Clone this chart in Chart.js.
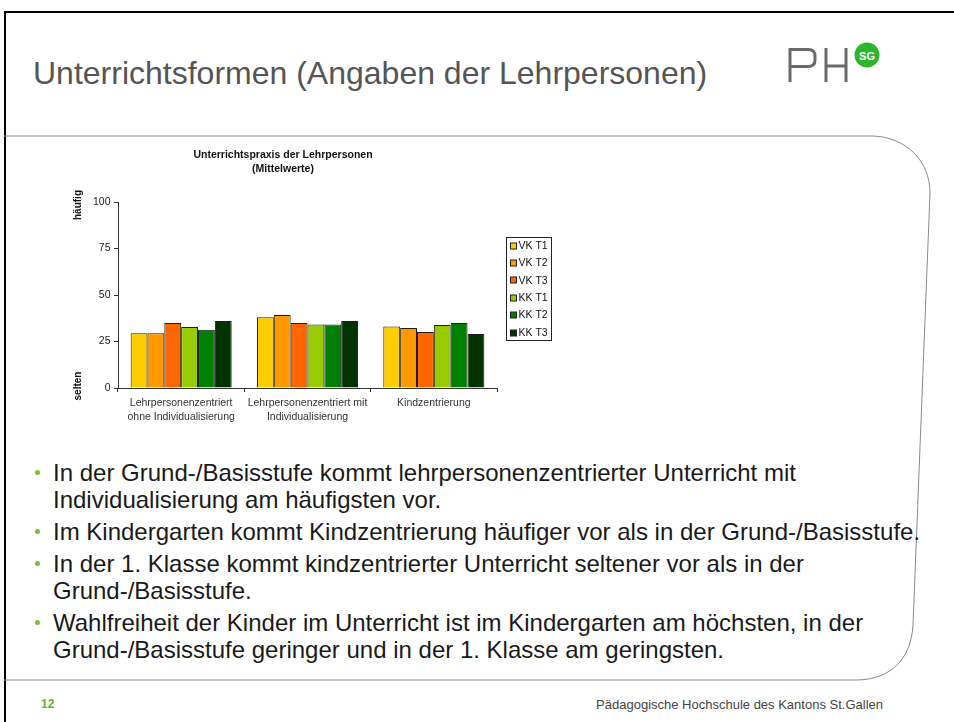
<!DOCTYPE html>
<html>
<head>
<meta charset="utf-8">
<script src="https://cdn.jsdelivr.net/npm/chart.js@4.4.0/dist/chart.umd.min.js"></script>
<style>
  html, body { margin: 0; overflow: hidden; background: #fff; font-family: "Liberation Sans", Arial, sans-serif; }
  #slide { position: relative; width: 954px; height: 722px; overflow: hidden; background: #fff; }
  #frame { position: absolute; left: 4px; top: 11px; width: 950px; height: 711px;
           border-top: 2px solid #000; border-left: 2px solid #000; }
  #heading { position: absolute; left: 33px; top: 57px; font-size: 32px; line-height: 32px;
             color: #555; white-space: nowrap; }
  #panel { position: absolute; left: 0; top: 0; }
  #chartBox { position: absolute; left: 50px; top: 140px; width: 510px; height: 292px; }
  #bullets { position: absolute; left: 30px; top: 459px; margin: 0; padding: 0; list-style: none;
             font-size: 24px; line-height: 27px; color: #1a1a1a; white-space: nowrap; }
  #bullets li { position: relative; padding-left: 23px; margin-bottom: 5px; }
  #bullets li::before { content: ""; position: absolute; left: 5px; top: 11px; width: 5px; height: 5px;
                        border-radius: 50%; background: #7cbf3a; }
  #pageNo { position: absolute; left: 41px; top: 697px; font-size: 12px; font-weight: bold; color: #5db532; }
  #footer { position: absolute; right: 71px; top: 697px; font-size: 13px; color: #444; white-space: nowrap; }
</style>
</head>
<body>
<div id="slide">
  <div id="frame"></div>
  <div id="heading">Unterrichtsformen (Angaben der Lehrpersonen)</div>
  <svg id="panel" width="954" height="722">
    <path d="M4 136 H873 C905 137 930 160 930 193 L913 625 C911 660 890 679 858 680 H4"
          fill="none" stroke="#8a8a8a" stroke-width="1"/>
    <g fill="none" stroke="#6a6a6a" stroke-width="3">
      <path d="M790 82 V49.5 H808 Q815 49.5 815 56 V60 Q815 66.5 808 66.5 H790"/>
      <path d="M826 48 V82 M846 48 V82 M826 66 H846"/>
    </g>
    <circle cx="867" cy="55" r="12.5" fill="#2db52d"/>
    <text x="867" y="59.5" text-anchor="middle" font-family="Liberation Sans, Arial" font-weight="bold"
          font-size="11" fill="#fff">SG</text>
  </svg>
  <div id="chartBox"><canvas id="praxis"></canvas></div>
  <ul id="bullets">
    <li>In der Grund-/Basisstufe kommt lehrpersonenzentrierter Unterricht mit<br>Individualisierung am häufigsten vor.</li>
    <li>Im Kindergarten kommt Kindzentrierung häufiger vor als in der Grund-/Basisstufe.</li>
    <li>In der 1. Klasse kommt kindzentrierter Unterricht seltener vor als in der<br>Grund-/Basisstufe.</li>
    <li>Wahlfreiheit der Kinder im Unterricht ist im Kindergarten am höchsten, in der<br>Grund-/Basisstufe geringer und in der 1. Klasse am geringsten.</li>
  </ul>
  <div id="pageNo">12</div>
  <div id="footer">Pädagogische Hochschule des Kantons St.Gallen</div>
</div>

<script>
// categories (two-line labels)
var categories = [
    ["Lehrpersonenzentriert", "ohne Individualisierung"],
    ["Lehrpersonenzentriert mit", "Individualisierung"],
    ["Kindzentrierung"]
];

// mean values per series
var vkT1 = [29.4, 38.0, 33.1];
var vkT2 = [29.4, 39.2, 32.3];
var vkT3 = [35.0, 35.0, 30.1];
var kkT1 = [32.8, 34.2, 33.9];
var kkT2 = [31.3, 34.2, 35.0];
var kkT3 = [36.0, 36.0, 29.0];

var seriesNames = ["VK T1", "VK T2", "VK T3", "KK T1", "KK T2", "KK T3"];
var seriesColors = ['#FFCC00', '#FF9900', '#FF6600', '#99CC00', '#008000', '#003300'];

var yTicks = [0, 25, 50, 75, 100];
var chartTitle = ["Unterrichtspraxis der Lehrpersonen", "(Mittelwerte)"];

var FONT = '"Liberation Sans", Arial, sans-serif';

var allSeries = [vkT1, vkT2, vkT3, kkT1, kkT2, kkT3];
var datasets = allSeries.map(function (values, i) {
    return {
        label: seriesNames[i],
        data: values,
        backgroundColor: seriesColors[i],
        borderColor: '#1e1e1e',
        borderWidth: 1,
        categoryPercentage: 0.8,
        barPercentage: 1.0
    };
});

/** extra texts: title, axis end labels, framed legend **/
var slideDecor = {
    id: 'slideDecor',
    afterDraw: function (chart) {
        var ctx = chart.ctx;
        var y = chart.scales.y;
        var area = chart.chartArea;

        ctx.save();
        ctx.fillStyle = '#111';
        ctx.textAlign = 'center';
        ctx.textBaseline = 'middle';
        ctx.font = 'bold 10.5px ' + FONT;
        ctx.fillText(chartTitle[0], 233, 15);
        ctx.fillText(chartTitle[1], 233, 29);

        // rotated "häufig" / "selten"
        ctx.font = 'bold 10px ' + FONT;
        var top = y.getPixelForValue(100), bottom = y.getPixelForValue(0);
        ctx.translate(28, top + 3);
        ctx.rotate(-Math.PI / 2);
        ctx.fillText('häufig', 0, 0);
        ctx.rotate(Math.PI / 2);
        ctx.translate(0, bottom - top - 5);
        ctx.rotate(-Math.PI / 2);
        ctx.fillText('selten', 0, 0);
        ctx.restore();

        // legend with frame
        var lx = Math.round(area.right) + 9.5;
        var ly = 97.5;
        var rowH = 17.4;
        var ds = chart.data.datasets;
        ctx.save();
        ctx.strokeStyle = '#222';
        ctx.lineWidth = 1;
        ctx.strokeRect(lx, ly, 45, 103);
        ctx.font = '10.5px ' + FONT;
        ctx.textAlign = 'left';
        ctx.textBaseline = 'middle';
        ds.forEach(function (d, i) {
            var cy = ly + 8 + i * rowH;
            ctx.fillStyle = d.backgroundColor;
            ctx.fillRect(lx + 4, Math.round(cy - 3), 6, 6);
            ctx.strokeRect(lx + 4, Math.round(cy - 3), 6, 6);
            ctx.fillStyle = '#111';
            ctx.fillText(d.label, lx + 12, cy + 0.5);
        });
        ctx.restore();
    }
};

var praxis = document.getElementById("praxis");

var praxisChart = new Chart(praxis, {
    type: 'bar',
    data: {
        labels: categories,
        datasets: datasets
    },
    plugins: [slideDecor],
    options: {
        responsive: true,
        maintainAspectRatio: false,
        animation: false,
        layout: {
            padding: { left: 20, top: 62, right: 63, bottom: 0 }
        },
        plugins: {
            tooltip: { enabled: false },
            legend: { display: false }
        },
        scales: {
            x: {
                afterFit: function (scale) { scale.height = 44; },
                grid: {
                    offset: true,
                    drawOnChartArea: false,
                    drawTicks: true,
                    tickLength: 4,
                    color: '#333'
                },
                border: { color: '#333', width: 1 },
                ticks: {
                    color: '#333',
                    padding: 4,
                    maxRotation: 0,
                    font: { size: 10.5, family: FONT, lineHeight: 1.33 }
                }
            },
            y: {
                min: 0,
                max: 100,
                afterFit: function (scale) { scale.width = 48; },
                afterBuildTicks: function (scale) {
                    scale.ticks = yTicks.map(function (v) { return { value: v }; });
                },
                grid: {
                    drawOnChartArea: false,
                    drawTicks: true,
                    tickLength: 4,
                    color: '#333'
                },
                border: { color: '#333', width: 1 },
                ticks: {
                    color: '#222',
                    padding: 3.5,
                    font: { size: 10.5, family: FONT }
                }
            }
        }
    }
});
</script>
</body>
</html>
